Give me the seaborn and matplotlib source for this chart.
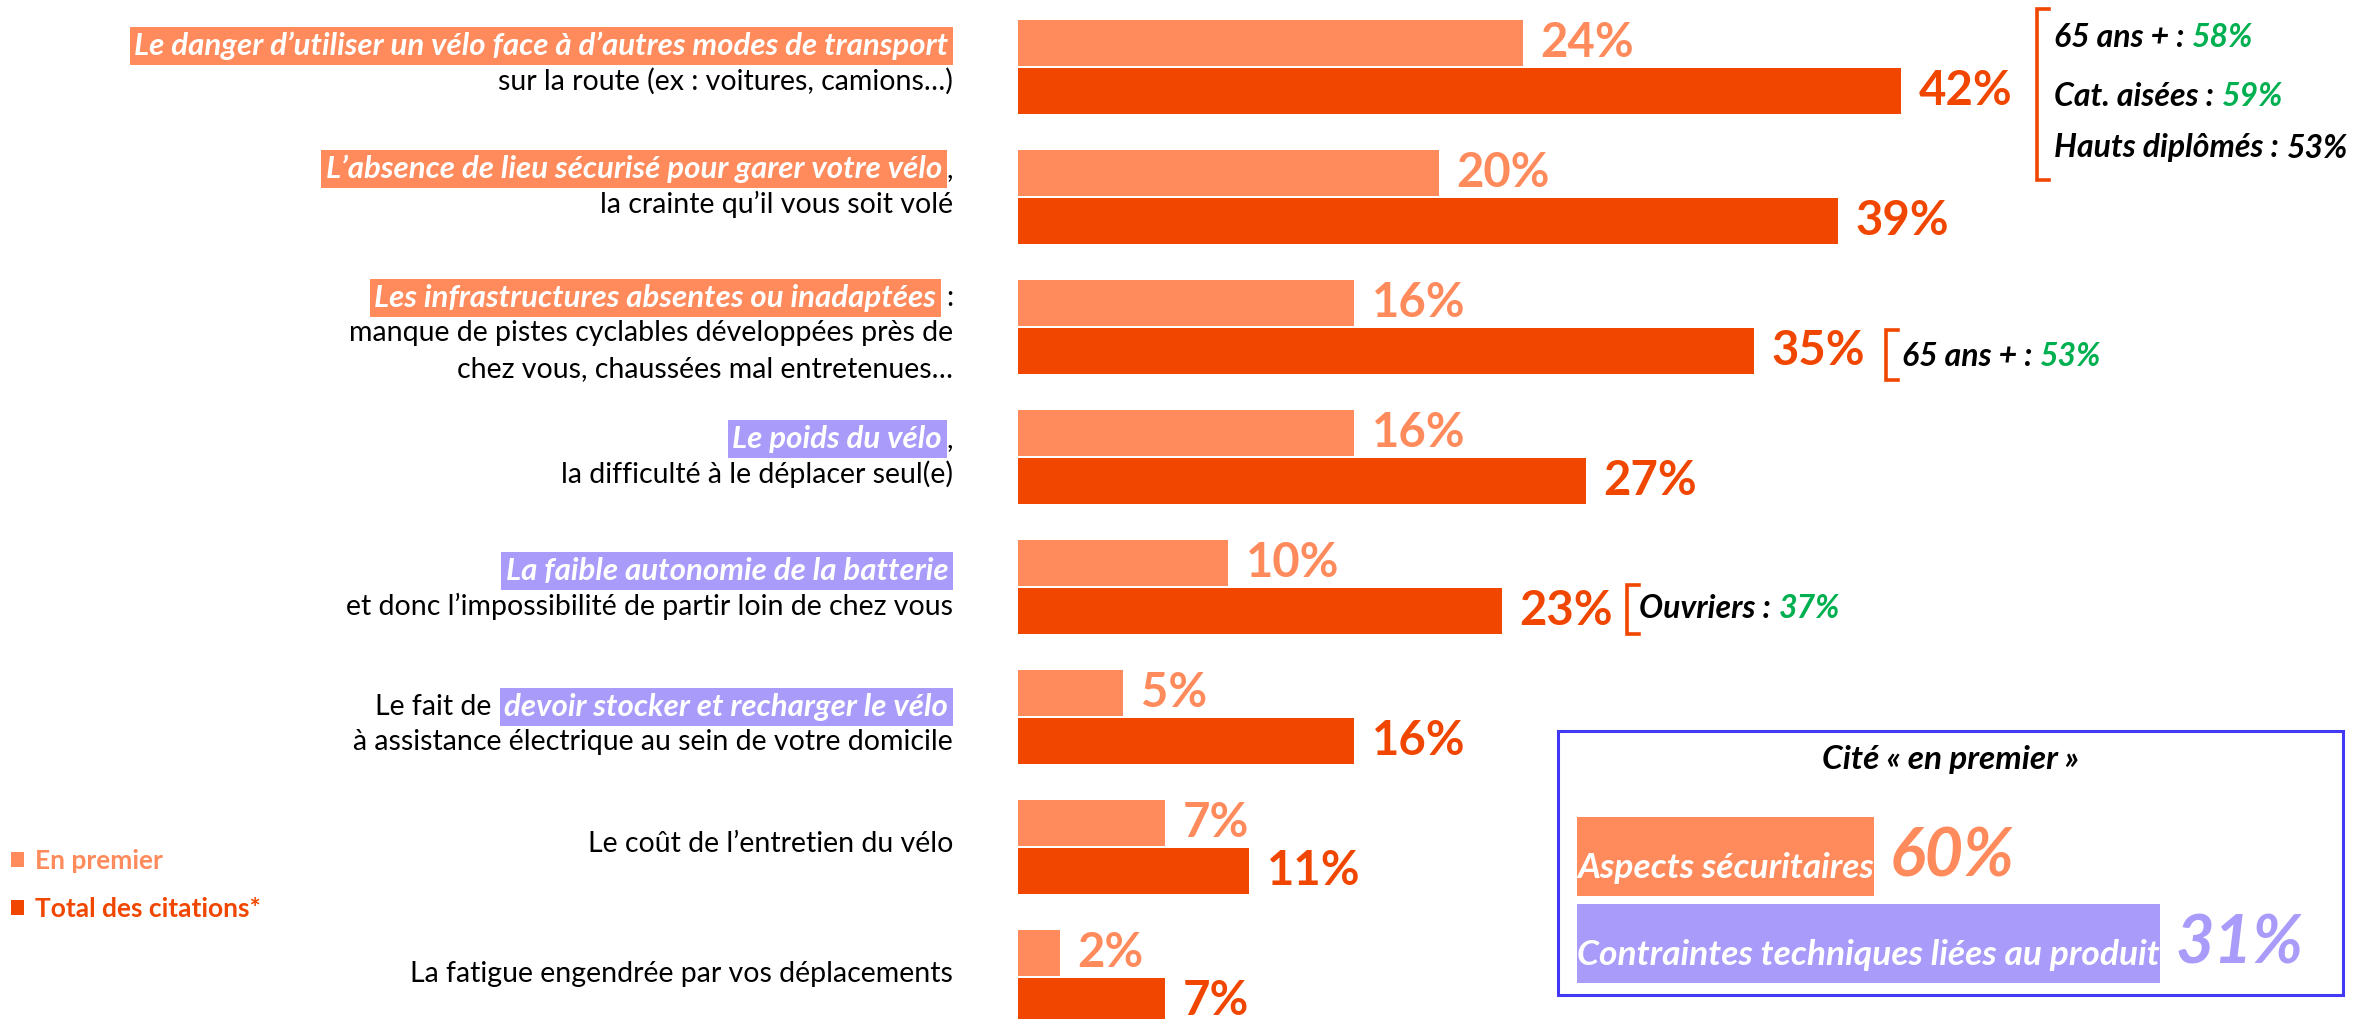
import numpy as np
import pandas as pd
import matplotlib
matplotlib.use("Agg")
import matplotlib.pyplot as plt
import seaborn as sns
from matplotlib.patches import Rectangle
from matplotlib.lines import Line2D
from matplotlib.path import Path

# ------------------------------------------------------------------ data
categories = ["Danger", "Stationnement", "Infrastructures", "Poids",
              "Autonomie", "Stockage", "Entretien", "Fatigue"]
series_names = ["En premier", "Total des citations*"]
first_values = [24, 20, 16, 16, 10, 5, 7, 2]
total_values = [42, 39, 35, 27, 23, 16, 11, 7]

label_prefix = ["", "", "", "", "", "Le fait de",
                "Le coût de l’entretien du vélo",
                "La fatigue engendrée par vos déplacements"]
label_highlight = ["Le danger d’utiliser un vélo face à d’autres modes de transport",
                   "L’absence de lieu sécurisé pour garer votre vélo",
                   "Les infrastructures absentes ou inadaptées",
                   "Le poids du vélo",
                   "La faible autonomie de la batterie",
                   "devoir stocker et recharger le vélo", "", ""]
label_suffix = ["", ",", ":", ",", "", "", "", ""]
label_rest = [["sur la route (ex : voitures, camions…)"],
              ["la crainte qu’il vous soit volé"],
              ["manque de pistes cyclables développées près de",
               "chez vous, chaussées mal entretenues…"],
              ["la difficulté à le déplacer seul(e)"],
              ["et donc l’impossibilité de partir loin de chez vous"],
              ["à assistance électrique au sein de votre domicile"],
              [], []]
highlight_theme = ["securite", "securite", "securite", "produit",
                   "produit", "produit", None, None]

note_labels = [["65 ans + :", "Cat. aisées :", "Hauts diplômés :"],
               ["65 ans + :"],
               ["Ouvriers :"]]
note_values = [[58, 59, 53], [53], [37]]
note_value_highlighted = [[True, True, False], [True], [True]]

summary_title = "Cité « en premier »"
summary_labels = ["Aspects sécuritaires", "Contraintes techniques liées au produit"]
summary_values = [60, 31]
summary_theme = ["securite", "produit"]

# ------------------------------------------------------------------ style
LIGHT = "#FF8A5B"
DARK = "#F04600"
LAVENDER = "#A89BFA"
GREEN = "#00B050"
BOXBLUE = "#4338F5"
THEME_COL = {"securite": LIGHT, "produit": LAVENDER}
FAM = ["Lato", "DejaVu Sans"]
plt.rcParams["font.family"] = FAM

W, H = 2356, 1019
fig = plt.figure(figsize=(W / 100, H / 100), dpi=100)
fig.patch.set_facecolor("white")
renderer = fig.canvas.get_renderer()

def fxy(px, py):
    return px / W, 1 - py / H

# ------------------------------------------------------------------ bars
X0 = 1018
PX_PER_PCT = 21.03
PITCH = 130.0
C0 = 66.9
ax = fig.add_axes([X0 / W, 0, 1 - X0 / W, 1])
df = pd.DataFrame({
    "categorie": categories * 2,
    "serie": [series_names[0]] * len(categories) + [series_names[1]] * len(categories),
    "valeur": first_values + total_values,
})
sns.barplot(data=df, y="categorie", x="valeur", hue="serie", order=categories,
            hue_order=series_names, palette=[LIGHT, DARK], orient="h",
            width=0.738, gap=0.048, linewidth=0, saturation=1, errorbar=None,
            ax=ax)
ax.set_xlim(0, (W - X0) / PX_PER_PCT)
ax.set_ylim((H - C0) / PITCH, -C0 / PITCH)
ax.axis("off")

for cont, col in zip(ax.containers, [LIGHT, DARK]):
    ax.bar_label(cont, labels=[f"{int(v)}%" for v in cont.datavalues],
                 padding=12.5, color=col, fontsize=34, fontweight="bold")

# legend
handles, labels = ax.get_legend_handles_labels()
if ax.get_legend() is not None:
    ax.get_legend().remove()
fig.legend(handles, labels, loc="upper left", bbox_to_anchor=fxy(11, 849),
           bbox_transform=fig.transFigure, frameon=False, borderpad=0,
           borderaxespad=0, handlelength=0.5, handleheight=0.5,
           handletextpad=0.4, labelspacing=0.9,
           prop=dict(weight="bold", size=19, family=FAM),
           labelcolor=[LIGHT, DARK])

# ------------------------------------------------------------------ category labels
XR = 953
FS_LAB = 20.5
FS_HL = 22.5
HL_PAD = 0.15
LINE_GAP = 35.5
first_line_dy = [-21, -28, -29, -18, -16, -10, -3, -3]

def ypix_of_cat(i):
    disp_y = ax.transData.transform((0, i))[1]
    return H - disp_y

boxpad = HL_PAD * renderer.points_to_pixels(FS_HL)
for i in range(len(categories)):
    yc = ypix_of_cat(i) + first_line_dy[i]
    x = XR
    if label_suffix[i]:
        t = fig.text(*fxy(x, yc), label_suffix[i], ha="right", va="center",
                     fontsize=FS_LAB, color="black")
        x -= t.get_window_extent(renderer).width + (5 if label_suffix[i] == ":" else 0)
    if label_highlight[i]:
        t = fig.text(*fxy(x - boxpad, yc), label_highlight[i], ha="right", va="center",
                     fontsize=FS_HL, color="white", fontweight="bold", style="italic",
                     bbox=dict(boxstyle=f"square,pad={HL_PAD}",
                               fc=THEME_COL[highlight_theme[i]], ec="none"))
        x -= t.get_window_extent(renderer).width + 2 * boxpad + 8
    if label_prefix[i]:
        fig.text(*fxy(x, yc), label_prefix[i], ha="right", va="center",
                 fontsize=FS_LAB, color="black")
    for k, line in enumerate(label_rest[i]):
        fig.text(*fxy(XR, yc + (k + 1) * LINE_GAP), line, ha="right", va="center",
                 fontsize=FS_LAB, color="black")

# ------------------------------------------------------------------ sub-group notes
FS_NOTE = 23
note_layout = [  # bracket x, bracket top, bracket bottom, text x, line centres
    (2037, 9, 180, 2054, [37.5, 96, 148]),
    (1886, 330, 380, 1902, [356]),
    (1627, 585, 634, 1639, [609]),
]

def bracket(xb, top, bot, tick=12):
    pts = [fxy(xb + tick, top), fxy(xb, top), fxy(xb, bot), fxy(xb + tick, bot)]
    fig.add_artist(Line2D([p[0] for p in pts], [p[1] for p in pts],
                          transform=fig.transFigure, color=DARK, lw=2.6,
                          solid_joinstyle="miter"))

for lab_list, val_list, hl_list, lay in zip(note_labels, note_values,
                                            note_value_highlighted, note_layout):
    xb, top, bot, xt, ys = lay
    bracket(xb, top, bot)
    for lab, val, hl, yy in zip(lab_list, val_list, hl_list, ys):
        t = fig.text(*fxy(xt, yy), lab, ha="left", va="center", fontsize=FS_NOTE,
                     fontweight="bold", style="italic", color="black")
        w = t.get_window_extent(renderer).width
        fig.text(*fxy(xt + w + 8, yy), f"{val}%", ha="left", va="center",
                 fontsize=FS_NOTE, fontweight="bold", style="italic",
                 color=GREEN if hl else "black")

# ------------------------------------------------------------------ summary box
fig.add_artist(Rectangle(fxy(1558, 995), (2343 - 1558) / W, (995 - 731) / H,
                         transform=fig.transFigure, fill=False, ec=BOXBLUE, lw=2.2))
fig.text(*fxy(1950, 760), summary_title, ha="center", va="center", fontsize=24,
         fontweight="bold", style="italic", color="black")

FS_SUM = 25.5
PAD_B, BOX_H = 0.35, 2.23

def tall_box(x0, y0, width, height, mutation_size):
    b = y0 - PAD_B * mutation_size
    t = b + BOX_H * mutation_size
    return Path([(x0, b), (x0 + width, b), (x0 + width, t), (x0, t), (x0, b)],
                closed=True)

summary_baselines = [878, 965]
for lab, val, th, yb in zip(summary_labels, summary_values, summary_theme,
                            summary_baselines):
    t = fig.text(*fxy(1577, yb), lab, ha="left", va="baseline", fontsize=FS_SUM,
                 fontweight="bold", style="italic", color="white",
                 bbox=dict(boxstyle=tall_box, fc=THEME_COL[th], ec="none"))
    ext = t.get_window_extent(renderer)
    ms = renderer.points_to_pixels(FS_SUM)
    bottom = ext.y0 - PAD_B * ms
    centre = bottom + BOX_H * ms / 2
    fig.text((ext.x1 + 16) / W, centre / H, f"{val}%", ha="left", va="center",
             fontsize=48, fontweight="bold", style="italic", color=THEME_COL[th])

fig.savefig("out.png", dpi=100, facecolor="white")
